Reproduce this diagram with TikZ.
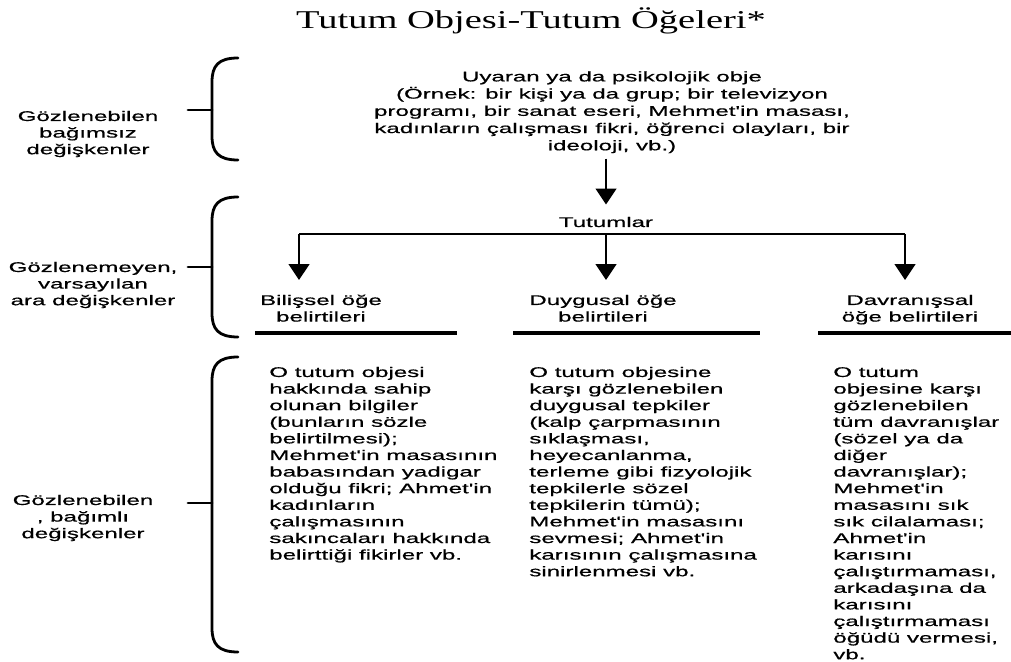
\documentclass[tikz,border=0pt]{standalone}
\usepackage{fontspec}
\usepackage{tikz}
\usetikzlibrary{
    arrows.meta,
    positioning
}
\newfontfamily\diagfont[FakeStretch=1.72, FakeBold=0.6]{Liberation Sans}
\newfontfamily\titlefont[FakeStretch=1.5]{Liberation Serif}

\begin{document}
\begin{tikzpicture}[
    x=0.02cm, y=-0.02cm,
    txt/.style={inner sep=0pt, font=\diagfont\fontsize{7.97pt}{9.45pt}\selectfont},
    side/.style={txt, align=center, anchor=north},
    column/.style={txt, align=left, anchor=north west},
    arr/.style={-{Triangle[width=0.42cm, length=0.32cm]}, line width=0.8pt},
    curly/.style={line width=1.6pt, line cap=round},
    rule/.style={line width=2.2pt},
]
    \useasboundingbox (0,0) rectangle (1011,662);

    % Title
    \node[font=\titlefont\fontsize{14.6pt}{17pt}\selectfont, inner sep=0pt, anchor=base] (title) at (531,29) {Tutum Objesi-Tutum Öğeleri*};

    % Left labels
    \node[side] (ind) at (88,109) {\strut Gözlenebilen\\bağımsız\\değişkenler};
    \node[side] (hyp) at (93,260) {\strut Gözlenemeyen,\\varsayılan\\ara değişkenler};
    \node[side] (dep) at (83,493) {\strut Gözlenebilen\\, bağımlı\\değişkenler};

    % Braces
    \foreach \ya/\ym/\yb in {58/110/160, 197/267/337, 357/503/652} {
        \draw[curly] (238,\ya) .. controls (218,\ya) and (212,\ya+8) .. (212,\ya+24) -- (212,\yb-24) .. controls (212,\yb-8) and (218,\yb) .. (238,\yb);
        \draw[curly] (188,\ym) -- (212,\ym);
    }

    % Stimulus
    \node[side, font=\diagfont\fontsize{7.97pt}{9.8pt}\selectfont] (stim) at (612,69) {\strut Uyaran ya da psikolojik obje\\(Örnek: bir kişi ya da grup; bir televizyon\\programı, bir sanat eseri, Mehmet'in masası,\\kadınların çalışması fikri, öğrenci olayları, bir\\ideoloji, vb.)};

    % Tutumlar
    \node[txt, anchor=base] (tut) at (606,227) {Tutumlar};
    \draw[arr, shorten <=0.1cm, shorten >=0.24cm] (stim.south -| tut.north) -- (tut.north);

    % Component headers
    \node[side] (h1) at (321,293) {\strut Bilişsel öğe\\belirtileri};
    \node[side] (h2) at (603,293) {\strut Duygusal öğe\\belirtileri};
    \node[side] (h3) at (910,293) {\strut Davranışsal\\öğe belirtileri};

    % Branches
    \coordinate (bl) at (299,234);
    \coordinate (bm) at (606,234);
    \coordinate (br) at (905,234);
    \draw[line width=1pt] (bl) -- (br);
    \draw[arr, shorten >=0.26cm] (bl) -- (bl |- h1.north);
    \draw[arr, shorten >=0.26cm] (bm) -- (bm |- h2.north);
    \draw[arr, shorten >=0.26cm] (br) -- (br |- h3.north);

    % Underlines
    \draw[rule] (255,333) -- (457,333);
    \draw[rule] (513,333) -- (760,333);
    \draw[rule] (818,333) -- (1011,333);

    % Observable responses
    \node[column] (c1) at (269,365) {\strut O tutum objesi\\hakkında sahip\\olunan bilgiler\\(bunların sözle\\belirtilmesi);\\Mehmet'in masasının\\babasından yadigar\\olduğu fikri; Ahmet'in\\kadınların\\çalışmasının\\sakıncaları hakkında\\belirttiği fikirler vb.};
    \node[column] (c2) at (529,365) {\strut O tutum objesine\\karşı gözlenebilen\\duygusal tepkiler\\(kalp çarpmasının\\sıklaşması,\\heyecanlanma,\\terleme gibi fizyolojik\\tepkilerle sözel\\tepkilerin tümü);\\Mehmet'in masasını\\sevmesi; Ahmet'in\\karısının çalışmasına\\sinirlenmesi vb.};
    \node[column] (c3) at (833,365) {\strut O tutum\\objesine karşı\\gözlenebilen\\tüm davranışlar\\(sözel ya da\\diğer\\davranışlar);\\Mehmet'in\\masasını sık\\sık cilalaması;\\Ahmet'in\\karısını\\çalıştırmaması,\\arkadaşına da\\karısını\\çalıştırmaması\\öğüdü vermesi,\\vb.};

\end{tikzpicture}
\end{document}
